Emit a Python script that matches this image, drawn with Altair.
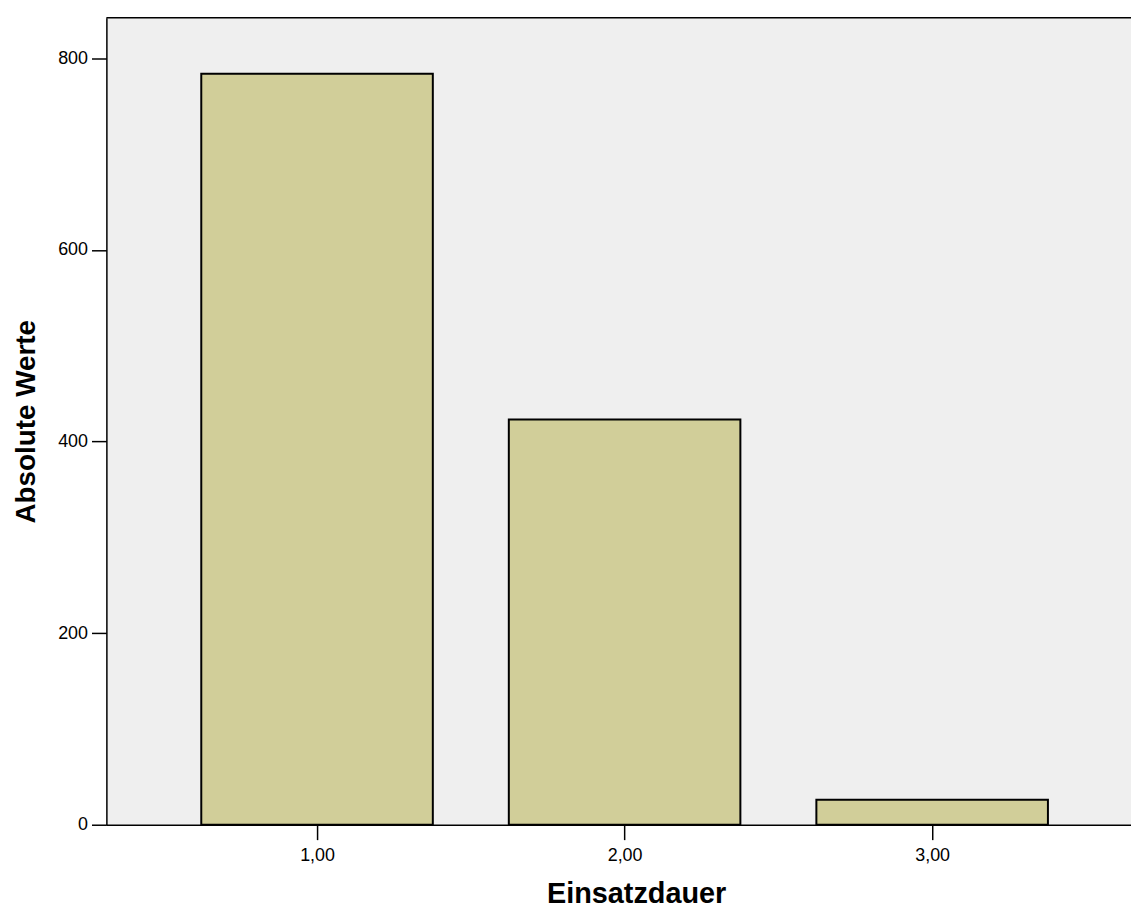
import altair as alt
import pandas as pd

# Data
categories = [1.0, 2.0, 3.0]
counts = [784, 423, 26]
x_tick_values = [1, 2, 3]
y_tick_values = [0, 200, 400, 600, 800]

df = pd.DataFrame({"Einsatzdauer": categories, "Absolute Werte": counts})

W, H = 1031, 812
FONT = "Liberation Sans"

bars = alt.Chart(df).mark_bar(
    size=233, fill="#D1CE99", stroke="black", strokeWidth=2
).encode(
    x=alt.X(
        "Einsatzdauer:Q",
        scale=alt.Scale(domain=[0.3312, 3.6304], nice=False, zero=False),
        axis=alt.Axis(
            values=x_tick_values,
            labelExpr="replace(format(datum.value, '.2f'), '.', ',')",
            title="Einsatzdauer",
            titleFontSize=29,
            titleFontWeight="bold",
            titleX=533,
            titleY=78,
            titleBaseline="alphabetic",
            titleAlign="center",
            labelPadding=7,
        ),
    ),
    y=alt.Y(
        "Absolute Werte:Q",
        scale=alt.Scale(domain=[0, 842.5], nice=False),
        axis=alt.Axis(
            values=y_tick_values,
            format="d",
            title="Absolute Werte",
            titleFontSize=28,
            titleFontWeight="bold",
            titleAngle=-90,
            titleX=-72,
            titleY=H / 2,
            titleBaseline="alphabetic",
            titleAlign="center",
            labelPadding=4,
        ),
    ),
)

frame_top = alt.Chart(pd.DataFrame({"k": [0]})).mark_rule(
    color="black", strokeWidth=1.5
).encode(x=alt.value(0), x2=alt.value(W), y=alt.value(0))

chart = alt.layer(bars, frame_top).properties(
    width=W,
    height=H,
    autosize=alt.AutoSizeParams(type="none"),
    padding={"left": 99, "top": 7, "right": 0, "bottom": 86},
    background="white",
).configure_view(
    fill="#EFEFEF", stroke=None
).configure_axis(
    grid=False,
    domainColor="black",
    domainWidth=1.5,
    tickColor="black",
    tickWidth=1.5,
    tickSize=15,
    labelFont=FONT,
    labelFontSize=18,
    labelColor="black",
    titleFont=FONT,
    titleColor="black",
)

chart.save("out.html", embed_options={"renderer": "svg", "actions": False})
